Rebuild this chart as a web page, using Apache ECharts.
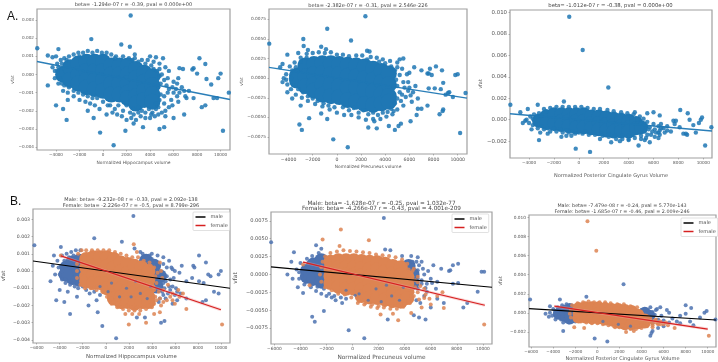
<!DOCTYPE html>
<html><head><meta charset="utf-8">
<style>html,body{margin:0;padding:0;background:#fff}#c{width:718px;height:362px;filter:blur(0.4px)}</style>
<script src="https://cdn.jsdelivr.net/npm/echarts@6/dist/echarts.min.js"></script>
</head><body><div id="c"></div>
<script>
const xTicksA=[-4000,-2000,0,2000,4000,6000,8000,10000];
const xTicksB=[-6000,-4000,-2000,0,2000,4000,6000,8000,10000];
const yTicksHippo=[-0.004,-0.003,-0.002,-0.001,0,0.001,0.002,0.003];
const yTicksPrec=[-0.0075,-0.005,-0.0025,0,0.0025,0.005,0.0075];
const yTicksPcc=[-0.002,0,0.002,0.004,0.006,0.008,0.010];

// A. dense regions (drawn as larger marks) and individually visible points
const a1Core=[[-3400,0],[-2800,.0004],[-2800,-.0003],[-2100,.0006],[-2100,0],[-2100,-.0005],[-1400,.0007],[-1400,.0002],[-1400,-.0003],[-1400,-.0007],[-700,.0007],[-700,.0002],[-700,-.0003],[-700,-.0008],[0,.0007],[0,.0002],[0,-.0003],[0,-.0009],[700,.0005],[700,0],[700,-.0005],[700,-.0011],[1400,.0005],[1400,0],[1400,-.0005],[1400,-.0011],[2100,.0005],[2100,0],[2100,-.0005],[2100,-.001],[2100,-.0013],[2800,.0003],[2800,-.0002],[2800,-.0007],[2800,-.0012],[2800,-.0016],[3500,.0001],[3500,-.0004],[3500,-.0009],[3500,-.0014],[4200,-.0001],[4200,-.0006],[4200,-.0011],[4200,-.0015]];
const a1Dots=[[-5600,.00145],[2350,.00325],[-1000,.00195],[1550,.00165],[2280,.00153],[-3800,.0014],[-4700,.00105],[-4300,.00095],[-4000,.001],[2700,.0011],[4000,.001],[4500,.00095],[5100,.0009],[8200,.0009],[8700,.00058],[6800,.0003],[7700,.00035],[7600,.00028],[8000,.00005],[8800,-.00025],[9200,-.00055],[9800,-.0002],[10000,.00005],[10700,-.001],[9700,-.0013],[9400,-.0013],[8700,-.0017],[8400,-.0018],[7700,-.0013],[6900,-.0022],[6000,-.0024],[5300,-.0023],[5200,-.0029],[4800,-.003],[3400,-.0029],[2600,-.0027],[1900,-.0031],[900,-.0039],[-250,-.0032],[-800,-.0024],[-1300,-.002],[-3100,-.0025],[-3400,-.0019],[-4000,-.0017],[-4700,-.0006],[-3000,-.0014],[10200,-.0031],[6500,.00035],[6400,-.0002],[-3900,.0006],[-3600,.0008],[-3300,.0009],[-2900,.001],[-2500,.0011],[-2100,.0012],[-1700,.0012],[-1300,.0013],[-900,.0012],[-500,.0013],[-100,.0012],[300,.0012],[700,.0011],[1100,.001],[1700,.001],[2200,.0009],[2700,.0009],[3300,.0008],[3800,.0008],[4300,.0007],[4800,.0006],[5300,.0004],[5600,.0002],[5000,0],[5500,-.0002],[6000,-.0004],[6300,-.0005],[6000,-.001],[5600,-.0008],[6500,-.001],[6900,-.0009],[7300,-.0009],[7100,-.0013],[6400,-.0015],[5800,-.0014],[5200,-.0012],[5600,-.0018],[4700,-.0018],[5000,-.0021],[4400,-.0023],[4000,-.0024],[3600,-.0024],[3200,-.0023],[2800,-.0025],[2400,-.0024],[2000,-.0025],[1600,-.0023],[1200,-.0022],[800,-.0021],[300,-.0022],[-300,-.0019],[-700,-.0017],[-1100,-.0016],[-1500,-.0015],[-2000,-.0014],[-2500,-.0012],[-3000,-.001],[-3400,-.0009],[-3800,-.0005],[-4100,-.0002],[-4100,.0002],[-4300,.0004]];
const a1More=[[600,-.0017],[1000,-.0019],[1300,-.0017],[1700,-.002],[2000,-.0017],[2300,-.0021],[2600,-.0022],[2600,-.0019],[3000,-.0021],[3300,-.002],[3000,-.0018],[3600,-.0021],[3900,-.0019],[4200,-.0021],[4500,-.0019],[4500,-.0016],[4800,-.0014],[4900,-.0011],[4700,-.0007],[4900,-.0005],[5200,-.0003],[5400,-.0006],[5200,-.0016],[5500,-.001],[4800,-.0001],[4600,.0002],[4300,.0003],[4800,.0003],[5900,-.0007],[6200,-.0008],[6300,-.0012],[6700,-.0007],[7000,-.0012],[5900,-.0017],[5300,-.002],[4700,-.0022],[4100,-.0022],[-3900,.0002],[-3700,-.0002],[-3800,.0004],[-3500,-.0005],[-3300,-.0006],[-2900,-.0007],[-2500,-.0009],[-2100,-.001],[-1700,-.0011],[-1300,-.0012],[-900,-.0013],[-500,-.0013],[0,-.0015],[400,-.0017],[-3500,.0006],[-3100,.0008],[-2000,.001],[1000,.0009],[2500,.0008],[3000,.0007],[3600,.0006],[4100,.0005]];
const a1Line=[[-5620,.00072],[10800,-.00138]];

const a2Core=[[-3300,.0003],[-3300,-.0003],[-2600,.0016],[-2600,.0002],[-2600,-.001],[-1900,.0018],[-1900,.0005],[-1900,-.0008],[-1900,-.0016],[-1200,.0019],[-1200,.0006],[-1200,-.0008],[-1200,-.0021],[-500,.0019],[-500,.0005],[-500,-.0008],[-500,-.0023],[200,.0018],[200,.0005],[200,-.001],[200,-.0024],[900,.0017],[900,.0003],[900,-.0012],[900,-.0028],[1600,.0016],[1600,.0002],[1600,-.0012],[1600,-.003],[2300,.0015],[2300,0],[2300,-.0015],[2300,-.0033],[3000,.0012],[3000,-.0002],[3000,-.0017],[3000,-.0034],[3700,.0009],[3700,-.0005],[3700,-.002],[3700,-.0032],[4300,.0006],[4300,-.0008],[4300,-.0023],[4300,-.003]];
const a2Dots=[[2360,.0079],[-800,.0063],[1170,.0048],[-2780,.005],[-2750,.0041],[-5600,.0044],[-4100,.003],[-900,.0037],[2500,.0035],[2700,.0034],[-3200,.0032],[-1300,.004],[-2400,.0036],[8200,.0015],[7700,.0012],[8700,.001],[7500,.0006],[7600,.0006],[7850,.0004],[9800,.0004],[10000,.0005],[8800,-.0006],[7600,-.0013],[8100,-.0013],[8600,-.0014],[9300,-.0018],[9200,-.0019],[9000,-.0021],[9600,-.0024],[10650,-.0019],[8800,-.004],[8750,-.0042],[8500,-.0046],[7500,-.0035],[7000,-.0039],[6700,-.0039],[6600,-.0047],[6100,-.0055],[5300,-.0058],[5100,-.0061],[4800,-.0066],[4300,-.0061],[3300,-.0064],[2600,-.0063],[3100,-.0055],[-2900,-.0066],[-3100,-.0059],[-2300,-.0051],[-800,-.0052],[-1300,-.0045],[-300,-.0078],[900,-.0088],[10200,-.007],[-3000,-.0035],[-3700,-.0026],[-4100,-.0018],[-4500,-.0005],[-4400,0],[-4700,.0014],[-4500,.0018],[5500,.0025],[5200,.0024],[6400,.0014],[7000,.001],[6000,.0007],[6500,-.001],[-3900,.0015],[-3500,.002],[-3000,.0026],[-2500,.0031],[-2000,.0032],[-1500,.0033],[-1000,.0032],[-500,.0033],[0,.003],[500,.003],[1000,.0028],[1600,.0029],[2100,.0029],[2800,.0027],[3300,.0026],[3800,.0024],[4400,.0022],[5000,.002],[5400,.0012],[5800,.0005],[5500,-.0005],[6000,-.0012],[6300,-.0018],[6700,-.0026],[6200,-.003],[5700,-.0024],[5500,-.0035],[5000,-.004],[4600,-.0046],[4100,-.0049],[3600,-.0052],[3000,-.0052],[2400,-.0053],[1800,-.005],[1200,-.0047],[600,-.0047],[0,-.0044],[-600,-.004],[-1200,-.0036],[-1800,-.0033],[-2400,-.0029],[-2900,-.0025],[-3400,-.0021],[-3800,-.0014],[-4100,-.0008],[-4200,-.0002],[-4200,.0005]];
const a2More=[[500,-.0037],[1000,-.0041],[1400,-.0038],[1800,-.0044],[2200,-.0041],[2600,-.0046],[3000,-.0044],[3400,-.0047],[3800,-.0044],[4200,-.0043],[4500,-.0039],[4800,-.0032],[5000,-.0026],[5200,-.0018],[5000,-.001],[4900,-.0002],[5200,.0004],[4800,.001],[4500,.0015],[5000,.0014],[5600,-.0012],[5900,-.0016],[5900,-.0005],[6100,-.0022],[5300,-.0029],[4700,-.0042],[5400,-.0021],[-3700,.001],[-3800,0],[-3600,-.0009],[-3200,-.0014],[-2800,-.0018],[-2400,-.0023],[-2000,-.0026],[-1600,-.0029],[-1100,-.0032],[-700,-.0035],[-200,-.0037],[-3400,.0014],[-3000,.0021],[-2500,.0026],[2500,.0024],[3500,.0021],[4000,.0019]];
const a2Line=[[-5620,.00137],[10770,-.00255]];

const a3Core=[[-3200,-.0001],[-2600,.0003],[-2600,-.0003],[-2000,.0005],[-2000,-.0004],[-1400,.0005],[-1400,-.0001],[-1400,-.0005],[-800,.0005],[-800,-.0001],[-800,-.0006],[-200,.0005],[-200,-.0001],[-200,-.0007],[400,.0005],[400,-.0001],[400,-.0007],[1000,.0003],[1000,-.0003],[1000,-.0008],[1600,.0003],[1600,-.0003],[1600,-.0009],[2200,.0002],[2200,-.0004],[2200,-.001],[2800,.0001],[2800,-.0005],[2800,-.0011],[3400,0],[3400,-.0006],[3400,-.0011],[4000,-.0001],[4000,-.0007],[4000,-.0011],[4600,-.0003],[4600,-.0008],[5000,-.0007]];
const a3Dots=[[-770,.0096],[310,.0065],[2370,.003],[-1200,.0017],[-5500,.0014],[-3300,.0014],[-4700,.0007],[-4100,.001],[-3200,-.0019],[-250,-.0027],[900,-.003],[10150,-.0024],[4800,-.0024],[5300,-.0019],[5700,-.0021],[3300,-.002],[2600,-.0021],[4000,-.0019],[4500,.0007],[5500,.0006],[6000,.0007],[6500,.0004],[8150,.0009],[8750,.0006],[8900,0],[9800,0],[9200,-.0005],[9650,-.0003],[9900,.0002],[10650,-.0007],[8400,-.0013],[8700,-.0014],[8600,-.0013],[7400,-.0011],[7600,-.0001],[7800,-.0001],[7700,-.0004],[8100,-.0007],[9400,-.0012],[6500,-.0014],[6100,-.0016],[6400,-.0017],[-4300,-.0001],[-4500,-.0003],[-3800,-.0009],[-3100,-.0012],[-2500,-.0013],[-1000,-.0015],[-1400,-.0016],[-600,-.0015],[1700,-.0018],[-4200,0],[-3900,.0003],[-3600,.0005],[-3200,.0006],[-2800,.001],[-2300,.0011],[-1800,.0012],[-1300,.0012],[-800,.0012],[-300,.0012],[200,.0012],[700,.0011],[1200,.001],[1700,.001],[2300,.0009],[2800,.0008],[3400,.0007],[3900,.0006],[4400,.0005],[4900,.0003],[5200,.0001],[5500,-.0002],[6000,-.0004],[6400,-.0006],[6800,-.0008],[7100,-.001],[6500,-.001],[5900,-.0011],[5500,-.0014],[5000,-.0015],[4500,-.0017],[4000,-.0018],[3500,-.0018],[3000,-.0018],[2400,-.0016],[1900,-.0015],[1300,-.0014],[800,-.0014],[300,-.0013],[-300,-.0013],[-800,-.0012],[-1300,-.0012],[-1800,-.0011],[-2300,-.0011],[-2800,-.0009],[-3300,-.0008],[-3700,-.0005],[-4000,-.0003]];
const a3More=[[-3700,.0001],[-3400,.0003],[-3500,-.0004],[-3000,.0004],[-3000,-.0006],[-2600,.0008],[-2500,-.0008],[-2000,-.0008],[-1500,-.0009],[-1000,-.001],[-500,-.0011],[0,-.0012],[500,-.0011],[1200,-.0012],[1800,-.0013],[2400,-.0014],[2900,-.0015],[3500,-.0015],[4000,-.0015],[4400,-.0014],[4900,-.0012],[5300,-.0011],[5000,-.0003],[4700,0],[5400,-.0006],[5700,-.0007],[6100,-.0009],[6400,-.0012],[5600,-.0009],[6600,-.0008],[5800,-.0014],[6200,-.0012],[5400,-.0017],[6900,-.0012],[7100,-.0006],[4200,.0002],[5000,-.0018],[6600,-.0004]];
const a3Line=[[-5530,.00055],[10700,-.00105]];

// B. male / female
const b1MaleCore=[[-3400,.0002],[-2900,.0005],[-2900,-.0001],[-2900,-.0004],[-2300,.0006],[-2300,0],[-2300,-.0005],[-3500,-.0002],[4200,.0003],[4200,-.0003],[4700,-.0003],[4400,-.0009],[3500,.0006]];
const b1MaleDots=[[2400,.0032],[-6200,.0015],[-1000,.0019],[-3900,.0014],[1400,.0017],[-4800,-.0006],[-4400,-.0002],[-4600,.0003],[-4500,.0009],[8100,.0009],[8700,.0005],[10000,0],[9800,-.0002],[9100,-.0003],[8900,-.0002],[7600,.0003],[7700,.0002],[6600,.0003],[6400,-.0001],[7500,-.0004],[7000,-.0006],[8100,-.0006],[8500,-.0007],[9400,-.0012],[9800,-.0013],[8700,-.0017],[8400,-.0018],[7000,-.0016],[6200,-.0017],[5800,-.0019],[5100,-.0029],[4800,-.003],[3400,-.0027],[2700,-.0027],[900,-.0039],[-300,-.0032],[-700,-.0024],[-1500,-.002],[-3100,-.0025],[-3600,-.0018],[-4300,-.0017],[-4000,-.0011],[-3300,-.0012],[-2500,-.0015],[4000,.001],[4500,.0009],[5000,.0008],[5500,.0006],[5800,.0001],[6000,0],[5200,-.0006],[5800,-.0009],[5400,-.0013],[5000,-.0014],[4600,-.0018],[6200,-.0012],[6500,-.0013],[3200,.001],[2500,.0013],[-4200,.0006],[-3800,.0009],[-3400,.001],[-3000,.0011],[-2600,.0012],[-2200,.0012],[-4100,.0002],[-4000,-.0002],[-3800,-.0005],[-3500,-.0007],[-3100,-.0008],[-2700,-.0009],[-2400,-.001],[4500,.0005],[5000,.0004],[5300,.0002],[4800,-.0002],[5300,-.0003],[5000,-.0007],[5600,-.0005],[5100,-.001],[5500,-.0009],[4900,-.0012],[4700,-.0016],[5200,-.0016],[5600,-.0011],[6000,-.0014],[5900,-.0004],[6100,-.001],[5700,.0002],[4000,.0007],[3800,.0009],[3000,.0011],[-3600,.0006],[-3200,.0008],[-2800,.0009],[-3800,0],[-3500,-.0005],[-3200,-.0006],[-2800,-.0007],[-2400,-.0008],[-2000,-.0009],[-1700,-.0011],[-1400,-.0013],[-1000,-.0012],[-500,-.0014],[-800,-.0017],[-3900,.0003]];
const b1MaleOver=[[500,-.0007],[1800,-.001],[2600,-.0006],[3000,-.0013],[3600,-.0016],[1200,-.0015],[-500,-.0009],[3900,-.0009],[200,-.0012],[2200,-.0015]];
const b1FemaleCore=[[-1700,.0007],[-1700,.0002],[-1700,-.0003],[-1700,-.0006],[-1100,.0008],[-1100,.0003],[-1100,-.0002],[-1100,-.0007],[-500,.0008],[-500,.0003],[-500,-.0002],[-500,-.0007],[100,.0008],[100,.0003],[100,-.0002],[100,-.0007],[100,-.001],[700,.0007],[700,.0002],[700,-.0003],[700,-.0008],[700,-.0013],[700,-.0016],[1300,.0005],[1300,0],[1300,-.0005],[1300,-.001],[1300,-.0015],[1300,-.0018],[1900,.0004],[1900,-.0001],[1900,-.0006],[1900,-.0011],[1900,-.0016],[1900,-.0018],[2500,.0003],[2500,-.0002],[2500,-.0007],[2500,-.0012],[2500,-.0017],[2500,-.0019],[3100,.0002],[3100,-.0003],[3100,-.0008],[3100,-.0013],[3100,-.0018],[3700,0],[3700,-.0005],[3700,-.001],[3700,-.0015],[3700,-.0018]];
const b1FemaleDots=[[2430,.00155],[2700,.0011],[-3900,.0009],[10100,-.0031],[3500,-.003],[2000,-.0031],[1700,-.0025],[2300,-.0025],[2900,-.0025],[4200,-.0025],[4700,-.0024],[6000,-.0019],[7000,-.0022],[5300,-.0017],[5800,-.0013],[6300,-.0011],[5400,-.0008],[4900,-.0004],[4800,0],[4700,.0005],[6700,-.0013],[-2400,.001],[-2100,.0012],[-1700,.0012],[-1200,.0012],[-700,.0012],[-200,.0012],[300,.0012],[800,.0011],[1300,.001],[1800,.0009],[2300,.0008],[2800,.0008],[3300,.0006],[3800,.0005],[4200,.0002],[4500,-.0001],[4400,-.0007],[4600,-.0012],[4400,-.0017],[4000,-.0021],[3500,-.0022],[3000,-.0023],[2500,-.0023],[2000,-.0023],[1500,-.0022],[1000,-.0021],[500,-.0019],[100,-.0015],[-300,-.0012],[-800,-.0011],[-1300,-.001],[-1800,-.001],[-2200,-.0008],[-2500,-.0004],[-2500,0],[-2500,.0004],[700,-.0018],[1000,-.0019],[1400,-.0021],[1900,-.002],[2200,-.0021],[2700,-.0021],[3300,-.0021],[3700,-.002],[4200,-.0019],[4100,-.0015],[4200,-.0011],[4100,-.0006],[4300,-.0003],[3900,.0003],[4300,-.0015],[4700,-.0016],[4800,-.002],[5000,-.0011],[5000,-.0018],[5600,-.0015],[5800,-.0017],[6400,-.0015],[300,-.0012],[500,-.0016],[-700,-.0009]];
const b1MaleLine=[[-6320,.00058],[10790,-.001]];
const b1FemaleLine=[[-3900,.00088],[10000,-.00225]];

const b2MaleCore=[[-3500,.0005],[-3500,-.0003],[-3000,.0014],[-3000,.0004],[-3000,-.0006],[-2400,.002],[-2400,.001],[-2400,0],[-2400,-.001],[4300,.0012],[4600,0],[4600,-.0012]];
const b2MaleDots=[[2400,.0079],[-6250,.0045],[-4500,.0031],[-2800,.0041],[-2400,.0036],[8100,.0015],[7700,.0013],[7500,.0006],[7400,.0005],[-5000,0],[-4700,.0018],[-4300,.0007],[-4600,-.0006],[-4200,-.0018],[-3800,-.0026],[-3100,-.0059],[-2900,-.0066],[-2200,-.0051],[-800,-.004],[-1600,-.0032],[-300,-.0078],[900,-.0089],[2700,-.0063],[4700,-.0057],[5100,-.006],[5600,-.0063],[6000,-.0046],[7000,-.004],[6500,-.0034],[8500,-.0046],[8800,-.004],[9600,-.0024],[10100,.0004],[9900,.0004],[7700,-.0013],[8100,-.0012],[6500,-.001],[5800,.0005],[5300,.0018],[5000,.0024],[4500,.0026],[3800,.0026],[2900,.0034],[2500,.0035],[6200,.0013],[6800,.0008],[6400,-.002],[5500,-.003],[5700,-.0024],[4900,-.0036],[5200,-.004],[-4000,.0016],[-3500,.0022],[-3100,.0026],[-2600,.003],[-4100,.0003],[-4100,-.0006],[-3700,-.0014],[-3200,-.0018],[-2800,-.0023],[-2400,-.0027],[-2000,-.003],[-1300,-.0036],[4600,.0018],[5100,.0013],[5000,.0006],[5400,.0008],[5000,-.0006],[5500,0],[5300,-.0008],[5700,-.0013],[5300,-.0013],[5600,-.0019],[5000,-.002],[-3700,.0012],[-3400,.0016],[-3900,-.0002],[-3600,-.001],[-3100,-.0014],[-2700,-.0017],[-2200,-.002],[-1800,-.0027],[-1400,-.003],[-900,-.0032],[-500,-.0034],[4900,.0018],[6000,-.0006],[6100,-.0012]];
const b2MaleOver=[[500,-.0027],[1800,-.002],[2600,-.0015],[3000,-.003],[3600,-.0036],[1200,-.0036],[-500,-.0022],[3900,-.0018],[200,-.0029],[2200,-.0038]];
const b2FemaleCore=[[-1700,.0018],[-1700,.0008],[-1700,-.0002],[-1700,-.0012],[-1100,.002],[-1100,.001],[-1100,0],[-1100,-.001],[-1100,-.0017],[-500,.002],[-500,.001],[-500,0],[-500,-.001],[-500,-.002],[100,.002],[100,.001],[100,0],[100,-.001],[100,-.002],[700,.0019],[700,.0009],[700,-.0001],[700,-.0011],[700,-.0021],[700,-.003],[1300,.0018],[1300,.0008],[1300,-.0002],[1300,-.0012],[1300,-.0022],[1300,-.0032],[1900,.0017],[1900,.0007],[1900,-.0003],[1900,-.0013],[1900,-.0023],[1900,-.0033],[2500,.0015],[2500,.0005],[2500,-.0005],[2500,-.0015],[2500,-.0025],[2500,-.0035],[3100,.0012],[3100,.0002],[3100,-.0008],[3100,-.0018],[3100,-.0028],[3100,-.0037],[3700,.001],[3700,0],[3700,-.001],[3700,-.002],[3700,-.003],[3700,-.0038],[4200,-.0003],[4200,-.0013],[4200,-.0023],[4200,-.0033]];
const b2FemaleDots=[[-900,.0063],[-2300,.0049],[1250,.0048],[-1000,.004],[-3800,.0014],[-3300,-.0015],[3500,-.0064],[2150,-.0056],[10100,-.007],[7000,-.0047],[4500,-.0054],[3100,-.0055],[5300,-.0046],[6000,-.0042],[6500,-.003],[6900,-.0025],[5500,-.002],[5000,-.0011],[5000,-.0003],[4700,.0008],[5500,-.0033],[-2300,.0018],[-2100,.0025],[-1700,.003],[-1200,.0032],[-700,.0034],[-200,.0033],[300,.0032],[800,.0031],[1300,.003],[1800,.0028],[2300,.0027],[2800,.0026],[3300,.0024],[3800,.0021],[4200,.0015],[4600,.0005],[4800,-.0008],[4800,-.0018],[4700,-.003],[4400,-.004],[3900,-.0045],[3400,-.0048],[2900,-.0048],[2400,-.0046],[1900,-.0047],[1400,-.0045],[900,-.0042],[400,-.004],[-100,-.0032],[-600,-.0028],[-1100,-.0027],[-1600,-.0022],[-2100,-.0018],[-2400,-.001],[-2500,0],[-2400,.001],[500,-.0037],[1000,-.004],[1500,-.0042],[2000,-.0044],[2500,-.0043],[3000,-.0044],[3500,-.0043],[4000,-.0042],[4300,-.0037],[4500,-.003],[4600,-.0025],[4500,-.001],[4600,-.0003],[5000,-.0025],[5100,-.0035],[5600,-.0028],[5900,-.0034],[4300,.0007],[5200,-.0016]];
const b2MaleLine=[[-6260,.00107],[10700,-.00178]];
const b2FemaleLine=[[-3800,.00173],[10150,-.0043]];

const b3MaleCore=[[-3500,-.0001],[-3000,.0002],[-3000,-.0003],[-2500,.0004],[-2500,-.0002],[-2500,-.0006],[4300,0],[4700,-.0003],[4300,-.0004]];
const b3MaleDots=[[2370,.003],[-1000,.0017],[-3400,.0014],[-6100,.0014],[-250,-.0027],[900,-.003],[-3100,-.0019],[-4300,.0007],[-4700,-.0001],[-4400,-.0004],[-3800,-.0007],[-3100,-.001],[-2600,-.001],[5000,-.0019],[5500,-.0016],[4800,-.0024],[4900,-.0021],[6000,-.0014],[6500,0],[5700,.0006],[4800,.0006],[5400,.0004],[6300,.0003],[8000,.0008],[8500,.0005],[8000,-.0001],[7500,-.0003],[9300,-.0005],[9700,0],[9900,.0002],[10700,-.0007],[8700,-.0013],[7500,-.0011],[7200,-.0009],[8400,-.0009],[6800,-.0006],[-4300,0],[-4000,.0004],[-3600,.0006],[-3200,.0008],[-2800,.0009],[-4100,-.0003],[-3700,-.0004],[-3300,-.0007],[-2800,-.0009],[4000,.0003],[4500,.0003],[5000,.0001],[5200,-.0002],[4900,-.0005],[3900,-.0003],[-3800,.0002],[-3400,.0004],[-3500,-.0003],[-3200,-.0005],[-2800,.0006],[-2400,.0007],[-2300,-.0008],[-2000,-.0009],[5500,-.0007],[6000,-.0008],[5800,-.0003],[5300,.0003],[6500,-.001],[5000,-.0011]];
const b3MaleOver=[[500,-.0009],[1900,-.0012],[3000,-.0014]];
const b3FemaleCore=[[-1700,.0005],[-1700,-.0001],[-1700,-.0005],[-1100,.0006],[-1100,0],[-1100,-.0005],[-500,.0006],[-500,0],[-500,-.0006],[100,.0006],[100,0],[100,-.0006],[700,.0005],[700,-.0001],[700,-.0007],[1300,.0004],[1300,-.0002],[1300,-.0008],[1900,.0004],[1900,-.0002],[1900,-.0008],[1900,-.001],[2500,.0003],[2500,-.0003],[2500,-.0009],[2500,-.0012],[3100,.0002],[3100,-.0004],[3100,-.001],[3100,-.0012],[3700,-.0002],[3700,-.0006],[3700,-.0011],[4300,-.0007],[4300,-.001]];
const b3FemaleDots=[[-900,.0096],[-100,.0065],[10100,-.0024],[7000,-.0016],[6000,-.0012],[5500,-.0011],[5200,-.0008],[5000,-.0015],[3300,-.0019],[2600,-.002],[-1200,-.0016],[-2100,-.0015],[1600,-.0015],[-2400,.0003],[-2300,.0008],[-1800,.001],[-1300,.0011],[-800,.0012],[-300,.0011],[200,.0011],[700,.0011],[1200,.001],[1800,.0009],[2400,.0009],[3000,.0007],[3600,.0006],[3800,-.0004],[4800,-.0006],[5300,-.0007],[5700,-.0009],[6200,-.001],[5500,-.0012],[5000,-.0013],[4500,-.0014],[4000,-.0016],[3500,-.0017],[3000,-.0017],[2500,-.0016],[2000,-.0015],[1500,-.0014],[1000,-.0013],[500,-.0012],[0,-.0011],[-500,-.0011],[-1000,-.001],[-1500,-.0009],[-2000,-.0008],[-2400,-.0005],[-2500,-.0001],[4500,-.0012],[4800,-.0009],[5000,-.0011],[5300,-.001],[4600,-.0007],[4000,-.0013],[3500,-.0014],[2900,-.0015],[2300,-.0013],[1700,-.0012],[1100,-.0011],[4200,-.0014],[5700,-.0012],[6400,-.0013],[-2100,.0004],[-2100,-.0006]];
const b3MaleLine=[[-6200,.00045],[10750,-.00075]];
const b3FemaleLine=[[-3900,.0007],[10000,-.0017]];

const titlesA=["beta= -1.294e-07 r = -0.39, pval = 0.000e+00","beta= -2.382e-07 r = -0.31, pval = 2.546e-226","beta= -1.012e-07 r = -0.38, pval = 0.000e+00"];
const titlesB=["Male: beta= -9.232e-08 r = -0.33, pval = 2.092e-138\nFemale: beta= -2.226e-07 r = -0.5, pval = 8.799e-296","Male: beta= -1.628e-07 r = -0.25, pval = 1.032e-77\nFemale: beta= -4.266e-07 r = -0.43, pval = 4.001e-209","Male: beta= -7.479e-08 r = -0.24, pval = 5.770e-143\nFemale: beta= -1.685e-07 r = -0.46, pval = 2.009e-246"];
const xNames=["Normalized Hippocampus volume","Normalized Precuneus volume","Normalized Posterior Cingulate Gyrus Volume"];
const yName="vfat", legendNames=["male","female"];

const FONT='"DejaVu Sans"', TXT='#555', AX='#a0a0a0';
const BLUE='#1f77b4', MBLUE='#4c72b0', ORANGE='#dd8452';
const panels=[
 {l:37,r:230,t:9,b:150,xr:[-5620,10800],yr:[-.00416,.00361],xt:xTicksA,yt:yTicksHippo,d:3,ng:11,yg:22,xn:0,fx:4.1,fy:4.2,fn:4.4,ft:5,title:[133.5,2.5],A:[a1Core,a1Dots,a1More,a1Line],size:16},
 {l:269,r:467,t:9,b:154,xr:[-5620,10770],yr:[-.00967,.00882],xt:xTicksA,yt:yTicksPrec,d:4,ng:11,yg:25,xn:1,fx:4.6,fy:4.3,fn:4.4,ft:5.05,title:[368,2.5],A:[a2Core,a2Dots,a2More,a2Line],size:16},
 {l:510,r:712,t:10,b:158,xr:[-5530,10700],yr:[-.00357,.01023],xt:xTicksA,yt:yTicksPcc,d:3,ng:15,yg:25,xn:2,fx:4.2,fy:5.4,fn:5,ft:5.3,title:[610.5,2.5],A:[a3Core,a3Dots,a3More,a3Line],size:14},
 {l:31,r:230,t:209,b:343,xr:[-6320,10790],yr:[-.00418,.0036],xt:xTicksB,yt:yTicksHippo,d:3,ng:11,yg:27,xn:0,fx:4.1,fy:4.6,fn:5.4,ft:5,title:[131,197.5],size:14,
  B:[b1MaleCore,b1MaleDots,b1MaleOver,b1FemaleCore,b1FemaleDots,b1MaleLine,b1FemaleLine],leg:[193,212]},
 {l:271,r:492,t:212,b:344,xr:[-6260,10700],yr:[-.00972,.00874],xt:xTicksB,yt:yTicksPrec,d:4,ng:10,yg:33,xn:1,fx:4.3,fy:5.1,fn:5.8,ft:5.7,title:[381.5,200.5],size:14,
  B:[b2MaleCore,b2MaleDots,b2MaleOver,b2FemaleCore,b2FemaleDots,b2MaleLine,b2FemaleLine],leg:[452,214]},
 {l:529,r:716,t:215,b:348,xr:[-6200,10750],yr:[-.00358,.01026],xt:xTicksB,yt:yTicksPcc,d:3,ng:9,yg:26,xn:2,fx:4.1,fy:4.3,fn:5,ft:4.85,title:[622,203.5],size:12,
  B:[b3MaleCore,b3MaleDots,b3MaleOver,b3FemaleCore,b3FemaleDots,b3MaleLine,b3FemaleLine],leg:[681,218]}
];
const fmtY=d=>v=>v.toFixed(d).replace('-','\u2212');
const fmtX=v=>String(v).replace('-','\u2212');
const grid=[],xAxis=[],yAxis=[],series=[],title=[],legend=[];
const textStyle={fontFamily:FONT,color:'#444',fontWeight:'normal'};
panels.forEach((p,i)=>{
 grid.push({left:p.l,top:p.t,width:p.r-p.l,height:p.b-p.t,show:true,borderColor:AX,borderWidth:1.2,backgroundColor:'#fff'});
 xAxis.push({type:'value',gridIndex:i,min:p.xr[0],max:p.xr[1],splitLine:{show:false},axisLine:{show:false,onZero:false},
  axisTick:{customValues:p.xt,length:1.5,lineStyle:{color:'#777',width:.5}},
  axisLabel:{customValues:p.xt,formatter:fmtX,fontSize:p.fx,color:TXT,fontFamily:FONT,margin:3,hideOverlap:false},
  name:xNames[p.xn],nameLocation:'middle',nameGap:p.ng,nameTextStyle:{fontSize:p.fn,color:TXT,fontFamily:FONT}});
 yAxis.push({type:'value',gridIndex:i,min:p.yr[0],max:p.yr[1],splitLine:{show:false},axisLine:{show:false,onZero:false},
  axisTick:{customValues:p.yt,length:1.5,lineStyle:{color:'#777',width:.5}},
  axisLabel:{customValues:p.yt,formatter:fmtY(p.d),fontSize:p.fy,color:TXT,fontFamily:FONT,margin:3,hideOverlap:false},
  name:yName,nameLocation:'middle',nameGap:p.yg,nameTextStyle:{fontSize:p.fn,color:TXT,fontFamily:FONT}});
 const sc=(name,data,color,size,op,z)=>series.push({type:'scatter',name,xAxisIndex:i,yAxisIndex:i,data,symbolSize:size,silent:true,z,itemStyle:{color,opacity:op}});
 const ln=(name,data,color,w,op,z)=>series.push({type:'line',name,xAxisIndex:i,yAxisIndex:i,data,showSymbol:false,silent:true,z,lineStyle:{color,width:w,opacity:op},itemStyle:{color}});
 if(p.A){
  sc('points',p.A[0],BLUE,p.size,1,2);
  sc('points',p.A[1],BLUE,4.4,.85,3);
  sc('points',p.A[2],BLUE,4.4,.85,3);
  ln('fit',p.A[3],BLUE,1.4,.95,4);
 } else {
  const [mc,md,mo,fc,fd,ml,fl]=p.B;
  sc('male points',mc,MBLUE,p.size,1,2);
  sc('male points',md,MBLUE,4,.85,2);
  sc('female points',fc,ORANGE,p.size,1,3);
  sc('female points',fd,ORANGE,4,.85,3);
  sc('male points',mo,MBLUE,3.2,.75,4);
  ln('female band',fl,'#f2a0a0',3,.4,5);
  ln('male',ml,'#000',1.2,1,6);
  ln('female',fl,'#d62020',1.2,1,7);
  legend.push({left:p.leg[0],top:p.leg[1],orient:'vertical',data:legendNames.map(n=>({name:n})),selectedMode:false,
   icon:'rect',itemWidth:10,itemHeight:1.5,itemGap:3.5,padding:[2.5,2,2.5,2.5],borderColor:'#ccc',borderWidth:.6,borderRadius:1,backgroundColor:'#fff',z:10,
   textStyle:{fontSize:5,color:TXT,fontFamily:FONT}});
 }
 title.push({text:p.A?titlesA[i]:titlesB[i-3],left:p.title[0],top:p.title[1],textAlign:'center',padding:0,
  textStyle:{...textStyle,fontSize:p.ft,lineHeight:5.4}});
});
title.push({text:'A.',left:7,top:11,padding:0,textStyle:{fontFamily:'"Liberation Sans"',color:'#111',fontWeight:'normal',fontSize:12}});
title.push({text:'B.',left:10,top:196,padding:0,textStyle:{fontFamily:'"Liberation Sans"',color:'#111',fontWeight:'normal',fontSize:12}});
const chart=echarts.init(document.getElementById('c'),null,{renderer:'canvas'});
chart.setOption({animation:false,backgroundColor:'#fff',grid,xAxis,yAxis,series,title,legend});
</script></body></html>
